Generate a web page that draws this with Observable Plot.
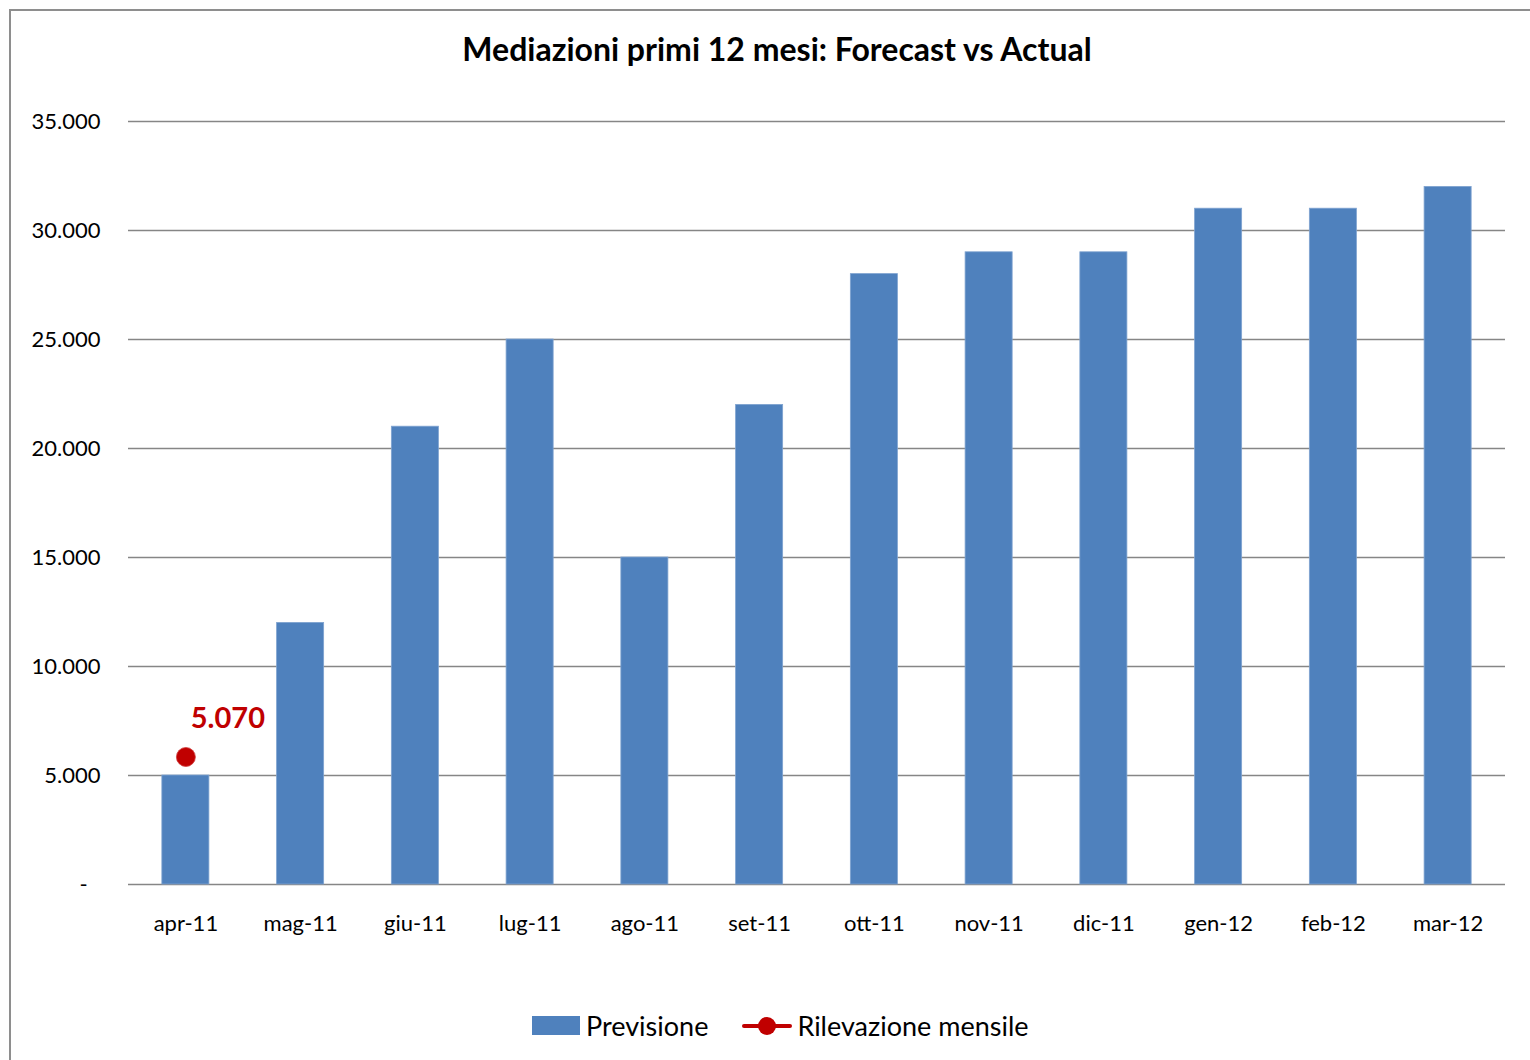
<!DOCTYPE html>
<html>
<head>
<meta charset="utf-8">
<script src="https://cdn.jsdelivr.net/npm/d3@7"></script>
<script src="https://cdn.jsdelivr.net/npm/@observablehq/plot@0.6"></script>
<style>
  html, body { margin: 0; padding: 0; background: #fff; width: 1530px; height: 1060px; overflow: hidden; font-family: Lato, "Open Sans", sans-serif; }
  #frame { position: absolute; left: 9px; top: 9px; width: 1540px; height: 1100px; border: 2px solid #8e8e8e; box-sizing: border-box; }
  #title { position: absolute; left: 0; width: 1554px; top: 29px; text-align: center; font-size: 32px; font-weight: bold; color: #000; }
  #chart { position: absolute; left: 0; top: 0; }
  #legend { position: absolute; top: 1009px; left: 532px; font-size: 27px; color: #000; display: flex; align-items: center; }
  .sw { display: inline-block; width: 48px; height: 19px; background: #4f81bd; margin-right: 6px; }
  .ln { position: relative; display: inline-block; width: 50px; height: 20px; margin-left: 34px; margin-right: 5px; }
  .ln::before { content: ""; position: absolute; left: 0; right: 0; top: 8px; height: 4px; background: #c00000; border-radius: 2px; }
  .ln::after { content: ""; position: absolute; left: 16px; top: 1px; width: 18px; height: 18px; border-radius: 50%; background: #c00000; }
</style>
</head>
<body>
<div id="frame"></div>
<div id="title">Mediazioni primi 12 mesi: Forecast vs Actual</div>
<div id="chart"></div>
<div id="legend"><span class="sw"></span><span>Previsione</span><span class="ln"></span><span>Rilevazione mensile</span></div>
<script>
const months = ["apr-11","mag-11","giu-11","lug-11","ago-11","set-11","ott-11","nov-11","dic-11","gen-12","feb-12","mar-12"];
const previsione = [5000, 12000, 21000, 25000, 15000, 22000, 28000, 29000, 29000, 31000, 31000, 32000];
const rilevazioneMesi = ["apr-11"];
const rilevazione = [5070];
const yTicks = [0, 5000, 10000, 15000, 20000, 25000, 30000, 35000];

const bars = months.map((m, i) => ({month: m, value: previsione[i]}));
const actual = rilevazioneMesi.map((m, i) => ({month: m, value: rilevazione[i]}));
const itFmt = d => d3.format(",")(d).replace(/,/g, ".");
const axisFmt = d => d === 0 ? "-\u2007" : itFmt(d);

const chart = Plot.plot({
  width: 1530,
  height: 960,
  marginLeft: 128,
  marginRight: 25,
  marginTop: 121,
  marginBottom: 76,
  style: {fontFamily: "Lato, 'Open Sans', sans-serif", fontSize: "22px", color: "#000", background: "transparent"},
  x: {domain: months, paddingInner: 0.59, paddingOuter: 0.295, round: false, label: null, tickSize: 0, tickPadding: 31},
  y: {domain: [0, 35000], ticks: yTicks, tickFormat: axisFmt, label: null, tickSize: 0, tickPadding: 28},
  marks: [
    Plot.gridY(yTicks, {stroke: "#868686", strokeOpacity: 1, strokeWidth: 1.5}),
    Plot.barY(bars, {x: "month", y: "value", fill: "#4f81bd", stroke: "#7fa3d0", strokeWidth: 0.8}),
    Plot.dot(actual, {x: "month", y: "value", r: 9.5, fill: "#c00000", stroke: "#d04040", strokeWidth: 0.8, dy: -17}),
    Plot.text(actual, {x: "month", y: "value", text: d => itFmt(d.value), fill: "#c00000", fontWeight: "bold", fontSize: 29, dx: 42, dy: -55})
  ]
});
document.getElementById("chart").appendChild(chart);
</script>
</body>
</html>
